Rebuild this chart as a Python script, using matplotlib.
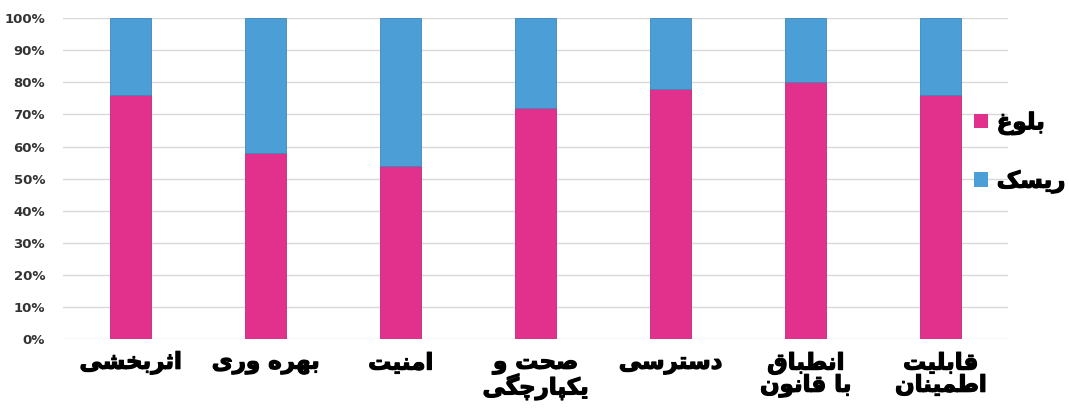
import matplotlib
matplotlib.use("Agg")
import matplotlib.pyplot as plt
import matplotlib.patheffects as pe
from matplotlib.patches import Patch
from matplotlib.ticker import PercentFormatter

# ─────────────────────────────────────────────
# DATA
# ─────────────────────────────────────────────
categories = ["اثربخشی", "بهره وری", "امنیت", "صحت و\nیکپارچگی",
              "دسترسی", "انطباق\nبا قانون", "قابلیت\nاطمینان"]
maturity = [76, 58, 54, 72, 78, 80, 76]          # بلوغ (pink, bottom)
risk = [100 - v for v in maturity]               # ریسک (blue, top)
series_names = ["بلوغ", "ریسک"]
y_ticks = list(range(0, 101, 10))

PINK = "#E2308D"
BLUE = "#4C9ED7"

# ─────────────────────────────────────────────
# Minimal Persian shaping (matplotlib has no bidi / joining support)
# forms: isolated, final, initial, medial
# ─────────────────────────────────────────────
FORMS = {
    "ا": ("\uFE8D", "\uFE8E", None, None),
    "ب": ("\uFE8F", "\uFE90", "\uFE91", "\uFE92"),
    "پ": ("\uFB56", "\uFB57", "\uFB58", "\uFB59"),
    "ت": ("\uFE95", "\uFE96", "\uFE97", "\uFE98"),
    "ث": ("\uFE99", "\uFE9A", "\uFE9B", "\uFE9C"),
    "چ": ("\uFB7A", "\uFB7B", "\uFB7C", "\uFB7D"),
    "ح": ("\uFEA1", "\uFEA2", "\uFEA3", "\uFEA4"),
    "خ": ("\uFEA5", "\uFEA6", "\uFEA7", "\uFEA8"),
    "د": ("\uFEA9", "\uFEAA", None, None),
    "ر": ("\uFEAD", "\uFEAE", None, None),
    "س": ("\uFEB1", "\uFEB2", "\uFEB3", "\uFEB4"),
    "ش": ("\uFEB5", "\uFEB6", "\uFEB7", "\uFEB8"),
    "ص": ("\uFEB9", "\uFEBA", "\uFEBB", "\uFEBC"),
    "ط": ("\uFEC1", "\uFEC2", "\uFEC3", "\uFEC4"),
    "غ": ("\uFECD", "\uFECE", "\uFECF", "\uFED0"),
    "ق": ("\uFED5", "\uFED6", "\uFED7", "\uFED8"),
    "ک": ("\uFB8E", "\uFB8F", "\uFB90", "\uFB91"),
    "گ": ("\uFB92", "\uFB93", "\uFB94", "\uFB95"),
    "ل": ("\uFEDD", "\uFEDE", "\uFEDF", "\uFEE0"),
    "م": ("\uFEE1", "\uFEE2", "\uFEE3", "\uFEE4"),
    "ن": ("\uFEE5", "\uFEE6", "\uFEE7", "\uFEE8"),
    "ه": ("\uFEE9", "\uFEEA", "\uFEEB", "\uFEEC"),
    "و": ("\uFEED", "\uFEEE", None, None),
    "ی": ("\uFBFC", "\uFBFD", "\uFBFE", "\uFBFF"),
}


def shape_line(line):
    out = []
    for i, ch in enumerate(line):
        if ch not in FORMS:
            out.append(ch)
            continue
        prev = line[i - 1] if i > 0 else None
        nxt = line[i + 1] if i + 1 < len(line) else None
        join_prev = prev in FORMS and FORMS[prev][2] is not None
        join_next = nxt in FORMS and FORMS[ch][2] is not None
        iso, fin, ini, med = FORMS[ch]
        if join_prev and join_next:
            out.append(med)
        elif join_prev:
            out.append(fin)
        elif join_next:
            out.append(ini)
        else:
            out.append(iso)
    return "".join(reversed(out))


def fa(text):
    return "\n".join(shape_line(l) for l in text.split("\n"))


# slightly heavier strokes so the Persian text looks like the bold original
HEAVY = [pe.withStroke(linewidth=0.9, foreground="black")]

# ─────────────────────────────────────────────
# PLOT
# ─────────────────────────────────────────────
plt.rcParams["font.family"] = ["DejaVu Sans"]

fig = plt.figure(figsize=(10.69, 4.12), dpi=100)
ax = fig.add_axes([0.059, 0.177, 0.884, 0.779])

x = list(range(len(categories)))
ax.bar(x, maturity, width=0.31, color=PINK, edgecolor="#C02878", linewidth=0.6, zorder=3)
ax.bar(x, risk, width=0.31, bottom=maturity, color=BLUE, edgecolor="#3F86B8",
       linewidth=0.6, zorder=3)

ax.set_xlim(-0.5, len(categories) - 0.5)
ax.set_ylim(0, 100)
ax.set_yticks(y_ticks)
ax.yaxis.set_major_formatter(PercentFormatter(decimals=0))
ax.grid(axis="y", color="#D9D9D9", linewidth=1.0, zorder=0)
for s in ax.spines.values():
    s.set_visible(False)
ax.tick_params(axis="both", length=0)
ax.tick_params(axis="y", pad=13, labelsize=9.5, labelcolor="#333333")
for lbl in ax.get_yticklabels():
    lbl.set_fontweight("bold")

ax.set_xticks(x)
ax.set_xticklabels([fa(c) for c in categories], fontsize=16.5, fontweight="bold",
                   linespacing=0.95)
ax.tick_params(axis="x", pad=9)
for lbl in ax.get_xticklabels():
    lbl.set_path_effects(HEAVY)

handles = [Patch(facecolor=PINK), Patch(facecolor=BLUE)]
leg = fig.legend(handles, [fa(n) for n in series_names], loc="upper left",
                 bbox_to_anchor=(0.911, 0.73), frameon=False, borderpad=0,
                 borderaxespad=0, prop={"size": 16.5, "weight": "bold"},
                 handlelength=0.6, handleheight=0.6, handletextpad=0.4,
                 labelspacing=1.5)
for t in leg.get_texts():
    t.set_path_effects(HEAVY)

fig.savefig("out.png", dpi=100)
